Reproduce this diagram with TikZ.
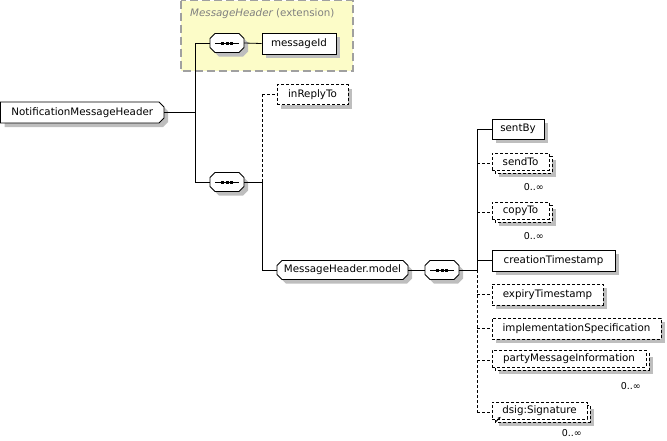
\documentclass[tikz,border=0pt]{standalone}
\usepackage{fontspec}
\setmainfont{DejaVu Sans}
\usetikzlibrary{arrows.meta}
\definecolor{extfill}{RGB}{252,252,200}
\definecolor{extline}{RGB}{160,160,160}
\definecolor{exttext}{RGB}{128,128,128}
\definecolor{shadowgray}{RGB}{190,190,190}
\newcommand\shadowrect[4]{\fill[shadowgray] ({#1+4},{#2+4}) rectangle ({#3+4},{#4+4});}
\newcommand\backrect[4]{%
  \fill[shadowgray] ({#1+7},{#2+7}) rectangle ({#3+7},{#4+7});
  \draw[fill=white, line width=0.8pt, dash pattern=on 3pt off 2pt] ({#1+3},{#2+3}) rectangle ({#3+3},{#4+3});}
\newcommand\octshape[5]{%
  \fill[shadowgray] ({#1+#5+4},{#2+4}) -- ({#3-#5+4},{#2+4}) -- ({#3+4},{#2+#5+4}) -- ({#3+4},{#4-#5+4}) -- ({#3-#5+4},{#4+4}) -- ({#1+#5+4},{#4+4}) -- ({#1+4},{#4-#5+4}) -- ({#1+4},{#2+#5+4}) -- cycle;
  \draw[fill=white, line width=0.8pt] ({#1+#5},#2) -- ({#3-#5},#2) -- (#3,{#2+#5}) -- (#3,{#4-#5}) -- ({#3-#5},#4) -- ({#1+#5},#4) -- (#1,{#4-#5}) -- (#1,{#2+#5}) -- cycle;}
\begin{document}
\begin{tikzpicture}[x=1pt,y=-1pt,
  every node/.style={font=\fontsize{10.3}{12}\selectfont, inner sep=0pt, text=black},
  optline/.style={dash pattern=on 3pt off 2pt},
  conn/.style={line width=0.8pt},
  elem/.style={draw, fill=white, line width=0.8pt, rectangle, minimum height=20pt},
  optelem/.style={elem, optline},
  multi/.style={elem, optline, minimum height=17pt},
  plainbox/.style={rectangle, minimum height=19pt},
  occ/.style={font=\fontsize{9.5}{11}\selectfont, anchor=east},
  exttitle/.style={anchor=west, text=exttext}
]
\useasboundingbox (0,0) rectangle (667,440);

% extension area
\path[fill=extfill, draw=extline, line width=1.2pt, dash pattern=on 8pt off 4pt]
  (181,0.6) rectangle (353,71);
\node[exttitle] (ext) at (190,14) {{\itshape MessageHeader} (extension)};

% root (right corners chamfered)
\fill[shadowgray] (4.5,106) -- (163,106) -- (168,111) -- (168,122) -- (163,127) -- (4.5,127) -- cycle;
\draw[fill=white, line width=0.8pt] (0.5,102) -- (159,102) -- (164,107) -- (164,118) -- (159,123) -- (0.5,123) -- cycle;
\node[plainbox, minimum width=163.5pt, minimum height=21pt] (root) at (82.25,112.5) {NotificationMessageHeader};

% compositors
\octshape{210}{33.5}{244}{52.5}{5}
\octshape{210}{172.5}{244}{191.5}{5}
\octshape{425}{260.5}{459}{279.5}{5}
\node[plainbox, minimum width=34pt] (s1) at (227,43) {};
\node[plainbox, minimum width=34pt] (s2) at (227,182) {};
\node[plainbox, minimum width=34pt] (s3) at (442,270) {};
\foreach \s in {s1,s2,s3}{
  \draw[line width=0.8pt] ([xshift=-12pt]\s.center) -- ([xshift=12pt]\s.center);
  \foreach \d in {-4.5,0,4.5}
    \fill ([xshift=\d pt-1.5pt, yshift=-1.5pt]\s.center) rectangle ([xshift=\d pt+1.5pt, yshift=1.5pt]\s.center);
}

% group reference
\octshape{277}{260.5}{408}{279.5}{5}
\node[plainbox, minimum width=131pt] (model) at (342.5,270) {MessageHeader.model};

% elements
\shadowrect{262}{33}{336}{54}
\node[elem, minimum width=74pt, minimum height=21pt] (mid) at (299,43.5) {messageId};
\shadowrect{277}{84.5}{348}{104.5}
\node[optelem, minimum width=71pt] (irt) at (312.5,94.5) {inReplyTo};

\shadowrect{492}{119}{544}{139}
\node[elem, minimum width=52pt] (sentby) at (518,129) {sentBy};
\backrect{492}{153}{549}{170}
\node[multi, minimum width=57pt] (sendto) at (520.5,161.5) {sendTo};
\backrect{492}{202}{549}{219}
\node[multi, minimum width=57pt] (copyto) at (520.5,210.5) {copyTo};
\shadowrect{492}{250}{615}{271}
\node[elem, minimum width=123pt, minimum height=21pt] (cts) at (553.5,260.5) {creationTimestamp};
\shadowrect{492}{284}{603}{305}
\node[optelem, minimum width=111pt, minimum height=21pt] (ets) at (547.5,294.5) {expiryTimestamp};
\shadowrect{492}{318}{661}{339}
\node[optelem, minimum width=169pt, minimum height=21pt] (impl) at (576.5,328.5) {implementationSpecification};
\backrect{492}{350}{646}{367}
\node[multi, minimum width=154pt] (pmi) at (569,358.5) {partyMessageInformation};
\backrect{492}{402}{587}{419}
\node[multi, minimum width=95pt] (sig) at (539.5,410.5) {dsig:Signature};
\draw[line width=0.8pt, -{Stealth[length=3pt,width=3pt]}] ([xshift=4pt,yshift=-2.5pt]sig.south west) -- ([xshift=9pt,yshift=2.5pt]sig.south west);

% occurrence labels
\node[occ] (o1) at (544,187) {0..∞};
\node[occ] (o2) at (544,236) {0..∞};
\node[occ] (o3) at (641,386) {0..∞};
\node[occ] (o4) at (582,433.5) {0..∞};

% junctions
\coordinate (j1) at (195,112.5);
\coordinate (j1t) at (195,43);
\coordinate (j1b) at (195,182);
\coordinate (j2) at (262,182);
\coordinate (j2t) at (262,94.5);
\coordinate (j2b) at (262,270);
\coordinate (j3) at (477,270);
\coordinate (ja) at (477,129);
\coordinate (jb) at (477,163);
\coordinate (jc) at (477,212);
\coordinate (jd) at (477,260.5);
\coordinate (je) at (477,294.5);
\coordinate (jf) at (477,328.5);
\coordinate (jg) at (477,360);
\coordinate (jh) at (477,412);

% connectors
\draw[conn] (root.east) -- (j1);
\draw[conn] (j1t) -- (j1b);
\draw[conn] (j1t) -- (s1.west);
\draw[conn] (j1b) -- (s2.west);
\draw[conn] (s1.east) -- (mid.west);
\draw[conn] (s2.east) -- (j2);
\draw[conn] (j2) -- (j2b);
\draw[conn, optline] (j2) -- (j2t);
\draw[conn, optline] (j2t) -- (irt.west);
\draw[conn] (j2b) -- (model.west);
\draw[conn] (model.east) -- (s3.west);
\draw[conn] (s3.east) -- (j3);
\draw[conn] (ja) -- (j3);
\draw[conn, optline] (j3) -- (jh);
\draw[conn] (ja) -- (sentby.west);
\draw[conn, optline] (jb) -- (jb -| sendto.west);
\draw[conn, optline] (jc) -- (jc -| copyto.west);
\draw[conn] (jd) -- (cts.west);
\draw[conn, optline] (je) -- (ets.west);
\draw[conn, optline] (jf) -- (impl.west);
\draw[conn, optline] (jg) -- (jg -| pmi.west);
\draw[conn, optline] (jh) -- (jh -| sig.west);
\end{tikzpicture}
\end{document}
